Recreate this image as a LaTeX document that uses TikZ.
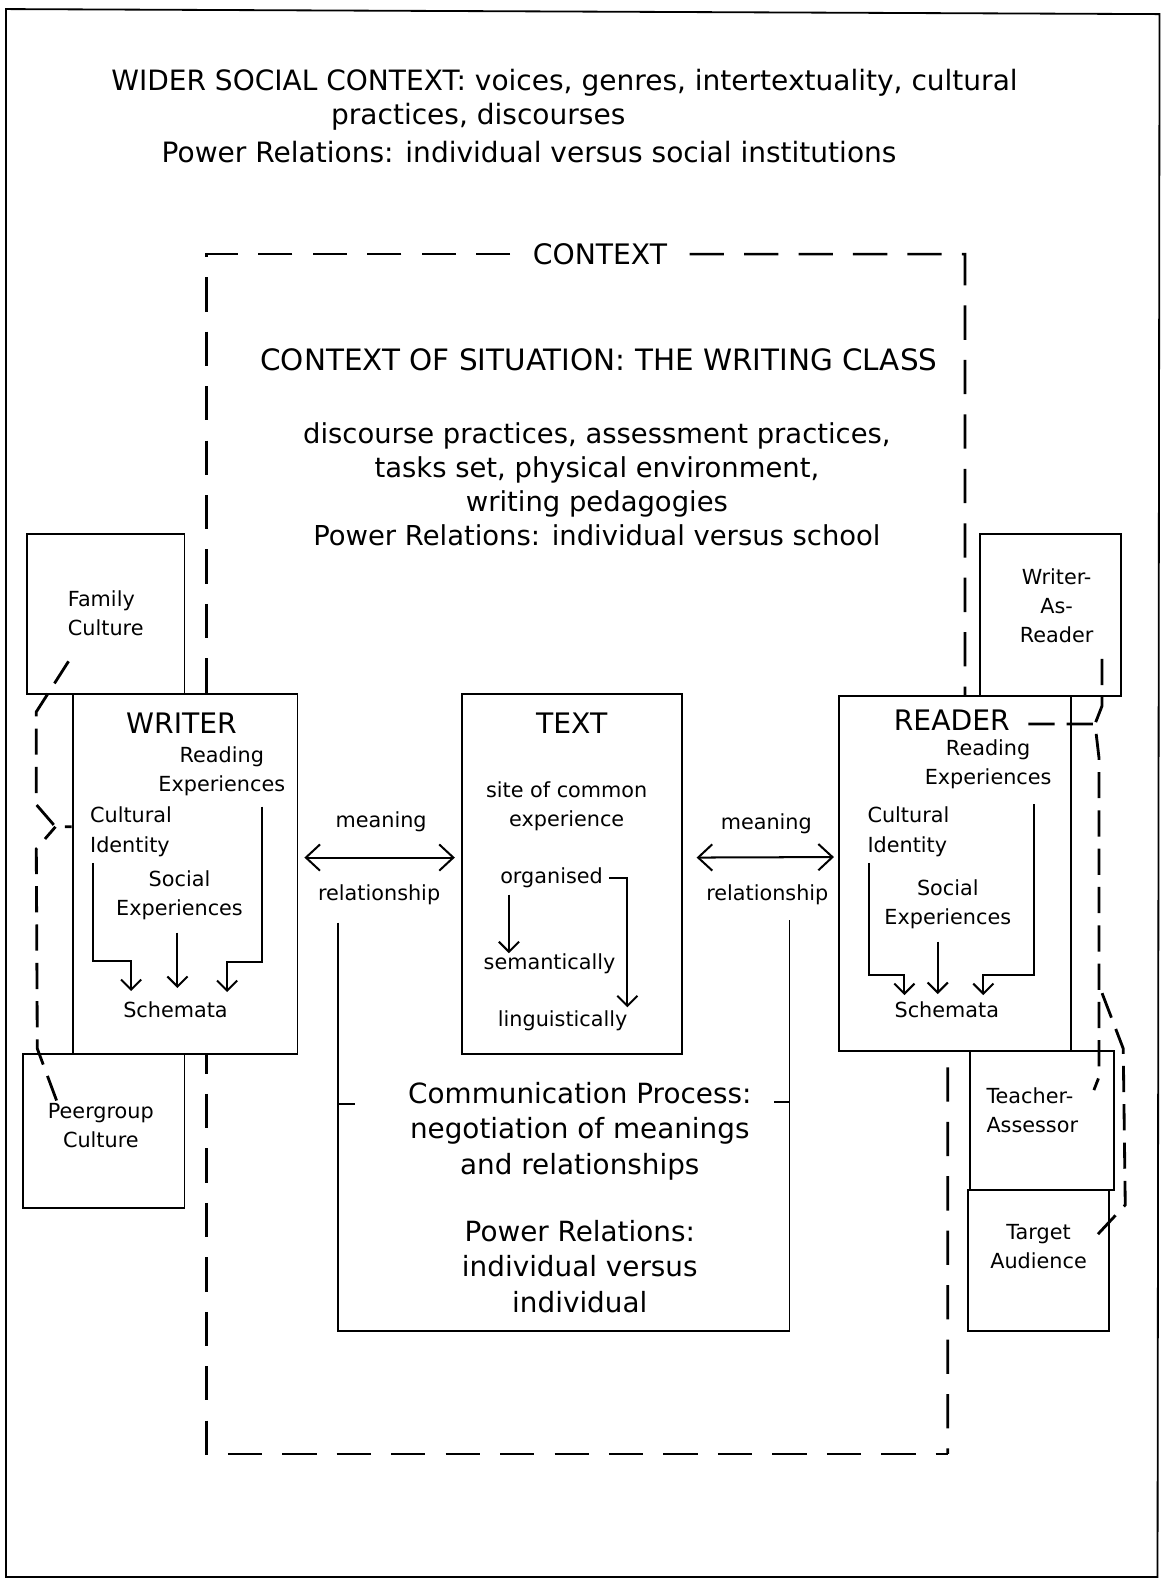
\documentclass[tikz,border=0pt]{standalone}
\usepackage{fontspec}
\setmainfont{DejaVu Sans}
\usetikzlibrary{arrows.meta}

\begin{document}
\begin{tikzpicture}[x=0.5pt, y=-0.5pt,
    panel/.style={draw, fill=white, line width=0.9pt, inner sep=0pt},
    big/.style={inner sep=0pt, align=center, font=\fontsize{14}{17}\selectfont},
    small/.style={inner sep=0pt, align=center, font=\fontsize{10.3}{14.5}\selectfont},
    flow/.style={line width=1pt, -{Straight Barb[length=5pt, width=10pt]}},
    twoway/.style={line width=1pt, {Straight Barb[length=7pt, width=13pt]}-{Straight Barb[length=7pt, width=13pt]}},
    link/.style={line width=1.4pt, dash pattern=on 13pt off 6pt},
    frame/.style={line width=1.3pt, dash pattern=on 17pt off 10pt}]

    \useasboundingbox (0,0) rectangle (1151,1568);

    % Outer frame: wider social context
    \draw[line width=0.9pt] (6,9) -- (1150,14) -- (1148,1564) -- (6,1564) -- cycle;

    \node[big, anchor=west, font=\fontsize{13.9}{17}\selectfont] (wider) at (110,82) {WIDER SOCIAL CONTEXT: voices, genres, intertextuality, cultural};
    \node[big, anchor=west, font=\fontsize{13.9}{17}\selectfont] (wider2) at (328,116) {practices, discourses};
    \node[big, anchor=west, font=\fontsize{13.9}{17}\selectfont] (wider3) at (160,151) {Power Relations: individual versus social institutions};

    % Dashed context frame
    \node[big, inner xsep=11pt] (context) at (595,252) {CONTEXT};
    \draw[frame] (context.west) -- (205,252) -- (205,1442) -- (940,1442);
    \draw[frame] (context.east) -- (957,252) -- (957,690) -- (940,1042) -- (940,1442);

    \node[big, font=\fontsize{14.6}{17}\selectfont] (situation) at (594,357) {CONTEXT OF SITUATION: THE WRITING CLASS};
    \node[big, font=\fontsize{13.6}{16.85}\selectfont] (practices) at (592,480) {discourse practices, assessment practices,\\tasks set, physical environment,\\writing pedagogies\\Power Relations: individual versus school};

    % Side boxes
    \node[panel, minimum width=78pt, minimum height=79pt] (family) at (105,609) {};
    \node[panel, minimum width=80pt, minimum height=76.5pt] (peer) at (103,1121.5) {};
    \node[panel, minimum width=70pt, minimum height=80pt] (war) at (1042,610) {};
    \node[panel, minimum width=71.5pt, minimum height=69pt] (ta) at (1033.5,1111) {};
    \node[panel, minimum width=70pt, minimum height=70pt] (target) at (1030,1250) {};

    % Main boxes
    \node[panel, minimum width=111.5pt, minimum height=178.5pt] (writer) at (183.5,866.5) {};
    \node[panel, minimum width=109pt, minimum height=178.5pt] (textbox) at (567,866.5) {};
    \node[panel, minimum width=115pt, minimum height=176pt] (reader) at (947,866) {};

    \node[small, anchor=west, align=left] (famtxt) at (67,608) {Family\\Culture};
    \node[small] (peertxt) at (100,1116) {Peergroup\\Culture};
    \node[small] (wartxt) at (1048,601) {Writer-\\As-\\Reader};
    \node[small, anchor=west, align=left] (tatxt) at (978,1101) {Teacher-\\Assessor};
    \node[small] (targettxt) at (1030,1236) {Target\\Audience};

    % Writer
    \node[big] (wtitle) at (180,717) {WRITER};
    \node[small] (wread) at (220,765) {Reading\\Experiences};
    \node[small, anchor=west, align=left] (wcult) at (89,825) {Cultural\\Identity};
    \node[small] (wsoc) at (178,888) {Social\\Experiences};
    \node[small] (wschema) at (174,1001) {Schemata};
    \draw[flow] (wcult.south west) ++(3,6) |- ++(38,97) -- ++(0,30);
    \draw[flow] (wsoc.south) ++(-2,12) -- ++(0,55);
    \draw[flow] (wread.south east) ++(-23,10) |- ++(-35,154) -- ++(0,30);

    % Text
    \node[big] (ttitle) at (567,717) {TEXT};
    \node[small] (tsite) at (562,800) {site of common\\experience};
    \node[small] (torg) at (547,871) {organised};
    \node[small] (tsem) at (545,956) {semantically};
    \node[small] (tling) at (558,1012) {linguistically};
    \draw[flow] (torg.south west) ++(9,6) -- ++(0,58);
    \draw[flow] (torg.east) ++(6,0) -| ++(18,128);

    % Reader
    \node[big] (rtitle) at (944,714) {READER};
    \node[small] (rread) at (980,758) {Reading\\Experiences};
    \node[small, anchor=west, align=left] (rcult) at (860,825) {Cultural\\Identity};
    \node[small] (rsoc) at (940,897) {Social\\Experiences};
    \node[small] (rschema) at (939,1001) {Schemata};
    \draw[flow] (rcult.south west) ++(2,6) |- ++(35,111) -- ++(0,20);
    \draw[flow] (rsoc.south) ++(-10,12) -- ++(0,52);
    \draw[flow] (rread.south east) ++(-18,15) |- ++(-50,169) -- ++(0,20);

    % Meaning and relationship
    \node[small] (lmean) at (378,815) {meaning};
    \node[small] (lrel) at (376,887) {relationship};
    \node[small] (rmean) at (760,817) {meaning};
    \node[small] (rrel) at (761,887) {relationship};
    \draw[twoway] ([xshift=3pt, yshift=8pt]writer.east) -- ([xshift=-3pt, yshift=8pt]textbox.west);
    \draw[twoway] ([xshift=7pt, yshift=8pt]textbox.east) -- ([xshift=-2pt, yshift=8pt]reader.west);

    % Communication process
    \draw[line width=0.9pt] (335,915) -- (335,1320) -- (783,1320) -- (783,912);
    \draw[line width=0.9pt] (335,1095) -- ++(17,0);
    \draw[line width=0.9pt] (783,1093) -- ++(-15,0);
    \node[big, font=\fontsize{13.8}{17.5}\selectfont] (comm) at (575,1122) {Communication Process:\\negotiation of meanings\\and relationships};
    \node[big, font=\fontsize{13.8}{17.5}\selectfont] (commpower) at (575,1256) {Power Relations:\\individual versus\\individual};

    % Dashed links, left
    \coordinate (wjoin) at (55,820);
    \draw[link] (famtxt.south west) ++(1,25) -- (36,706) -- (36,798) -- (wjoin) -- (wjoin -| writer.west);
    \draw[link] (peertxt.north west) ++(9,-2) -- (37,1040) -- (36,842) -- (wjoin);

    % Dashed links, right
    \coordinate (rjoin) at (1086,718);
    \coordinate (rfork) at (1093,985);
    \draw[link] (wartxt.south) ++(45,15) -- (1093,700) -- (rjoin);
    \draw[link] (rtitle.east) ++(18,4) -- (rjoin) -- (1090,752) -- (1090,1068) -- ([xshift=-10.5pt, yshift=-20pt]ta.north east);
    \draw[link] (rfork) -- (1114,1040) -- (1116,1195) -- ([xshift=-6pt, yshift=13pt]target.east);

\end{tikzpicture}
\end{document}
